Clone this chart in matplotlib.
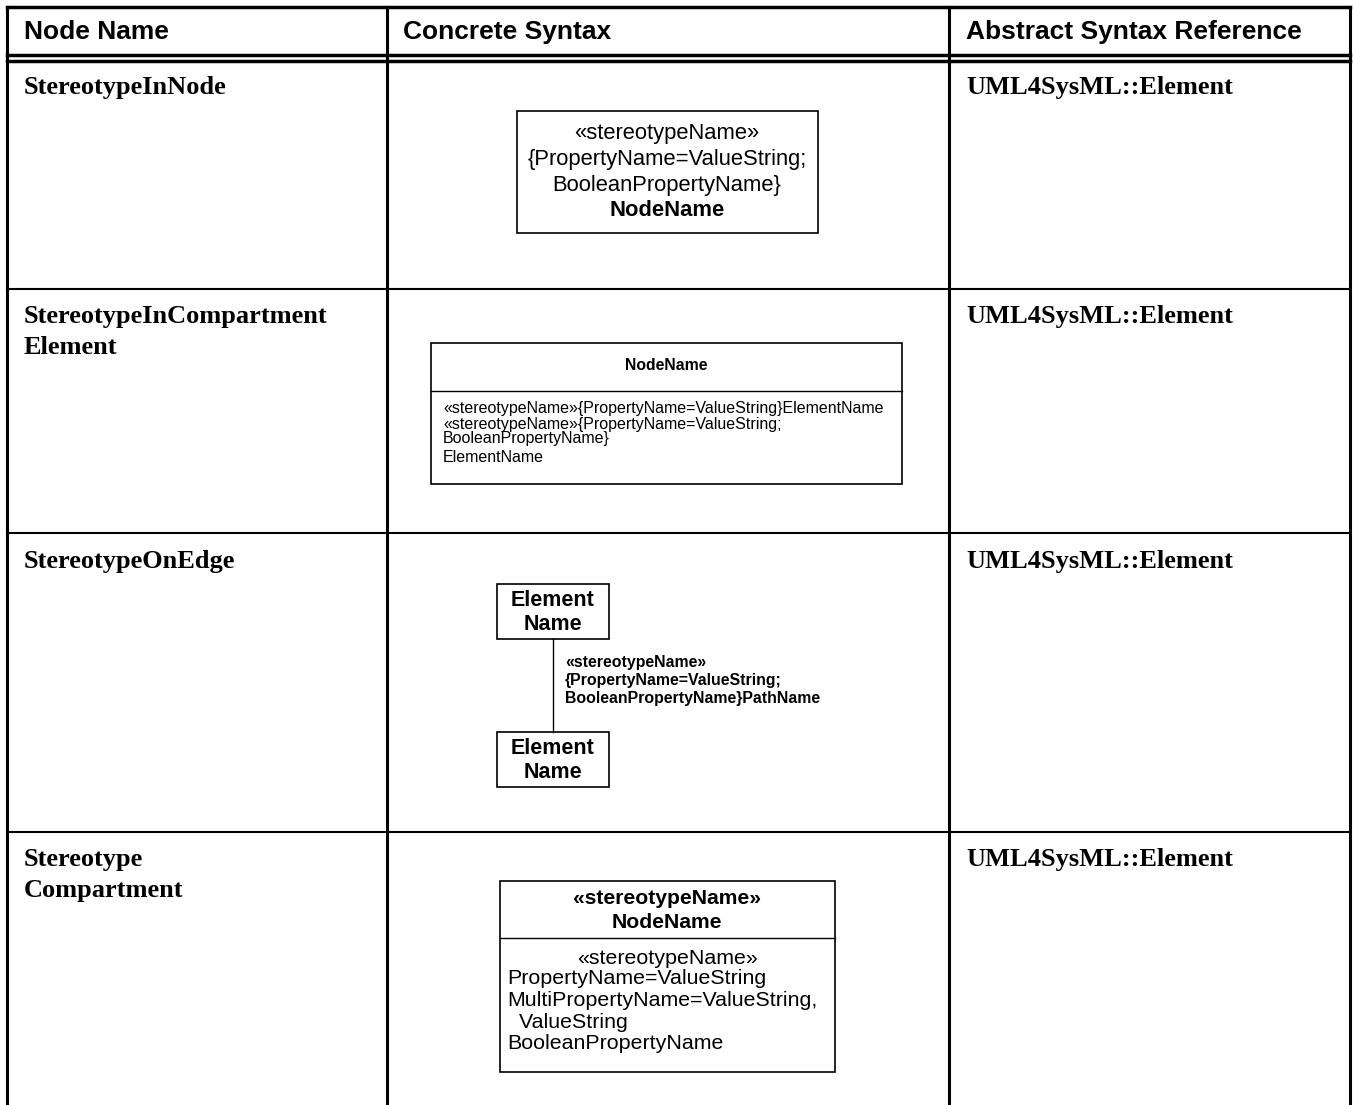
import matplotlib
matplotlib.use("Agg")
import matplotlib.pyplot as plt
from matplotlib.patches import Rectangle

# table content
headers = ["Node Name", "Concrete Syntax", "Abstract Syntax Reference"]
node_names = ["StereotypeInNode", "StereotypeInCompartment\nElement",
              "StereotypeOnEdge", "Stereotype\nCompartment"]
references = ["UML4SysML::Element"] * 4

# diagram texts
in_node_lines = ["«stereotypeName»", "{PropertyName=ValueString;",
                 "BooleanPropertyName}"]
in_node_name = "NodeName"
comp_title = "NodeName"
comp_lines = ["«stereotypeName»{PropertyName=ValueString}ElementName",
              "«stereotypeName»{PropertyName=ValueString;",
              "BooleanPropertyName}",
              "ElementName"]
edge_box = ["Element", "Name"]
edge_label = ["«stereotypeName»", "{PropertyName=ValueString;",
              "BooleanPropertyName}PathName"]
sc_header = ["«stereotypeName»", "NodeName"]
sc_body = ["PropertyName=ValueString", "MultiPropertyName=ValueString,",
           "  ValueString", "BooleanPropertyName"]

W, H = 1353, 1105
fig = plt.figure(figsize=(W / 100, H / 100), dpi=100)
ax = fig.add_axes([0, 0, 1, 1])
ax.set_xlim(0, W)
ax.set_ylim(H, 0)
ax.axis("off")

sans = "Liberation Sans"
serif = "Liberation Serif"

# grid lines
col_x = [7, 387, 949, 1350]
row_y = [289, 533, 832]
ax.plot([7, 1350], [7, 7], color="black", lw=2.5)
ax.plot([7, 1350], [55, 55], color="black", lw=2.5)
ax.plot([7, 1350], [61, 61], color="black", lw=2.5)
for x in col_x:
    ax.plot([x, x], [7, H], color="black", lw=2.2)
for y in row_y:
    ax.plot([7, 1350], [y, y], color="black", lw=1.5)

# header
hx = [24, 403, 966]
for x, t in zip(hx, headers):
    ax.text(x, 32, t, fontsize=19, fontweight="bold", family=sans,
            va="center", ha="left")

# left and right columns
row_top = [86, 315, 560, 858]
for y, name, ref in zip(row_top, node_names, references):
    ax.text(24, y - 10, name, fontsize=19, fontweight="bold", family=serif,
            va="top", ha="left", linespacing=1.42)
    ax.text(966, y - 10, ref, fontsize=19, fontweight="bold", family=serif,
            va="top", ha="left")

# diagram 1: stereotype in node
ax.add_patch(Rectangle((517, 111), 301, 122, fill=False, lw=1.2))
for i, t in enumerate(in_node_lines):
    ax.text(667, 134 + i * 25.5, t, fontsize=15.8, family=sans,
            ha="center", va="center")
ax.text(667, 211, in_node_name, fontsize=15.8, family=sans,
        fontweight="bold", ha="center", va="center")

# diagram 2: stereotype in compartment element
ax.add_patch(Rectangle((431, 343), 471, 141, fill=False, lw=1.2))
ax.plot([431, 902], [391, 391], color="black", lw=1)
ax.text(666, 366, comp_title, fontsize=11.3, family=sans, fontweight="bold",
        ha="center", va="center")
for i, t in enumerate(comp_lines):
    ax.text(443, 409 + i * 15 + (3 if i == 3 else 0), t, fontsize=11.5,
            family=sans, ha="left", va="center")

# diagram 3: stereotype on edge
for top in [584, 732]:
    ax.add_patch(Rectangle((497, top), 112, 55, fill=False, lw=1.2))
    for i, t in enumerate(edge_box):
        ax.text(553, top + 16 + i * 25, t, fontsize=15.5, family=sans,
                fontweight="bold", ha="center", va="center")
ax.plot([553, 553], [639, 732], color="black", lw=1)
for i, t in enumerate(edge_label):
    ax.text(565, 662 + i * 18, t, fontsize=11.4, family=sans,
            fontweight="bold", ha="left", va="center")

# diagram 4: stereotype compartment
ax.add_patch(Rectangle((500, 881), 335, 191, fill=False, lw=1.2))
ax.plot([500, 835], [938, 938], color="black", lw=1)
for i, t in enumerate(sc_header):
    ax.text(667, 898 + i * 24, t, fontsize=15.2, family=sans,
            fontweight="bold", ha="center", va="center")
ax.text(667, 958, "«stereotypeName»", fontsize=15.4, family=sans,
        ha="center", va="center")
for i, t in enumerate(sc_body):
    ax.text(507, 979 + i * 21.5, t, fontsize=15.4, family=sans,
            ha="left", va="center")

fig.savefig("out.png", dpi=100)
